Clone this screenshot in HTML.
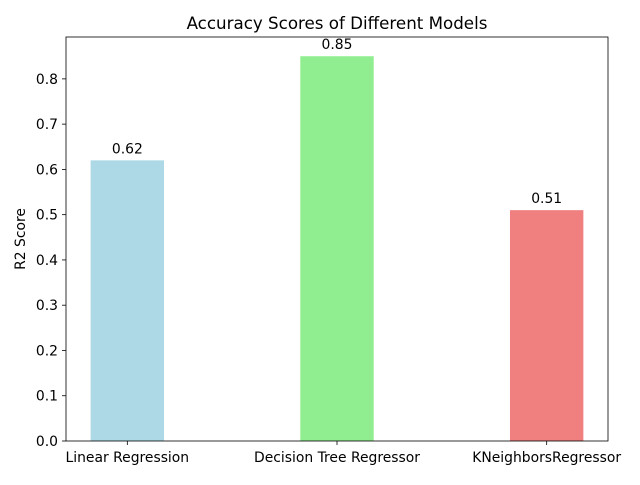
<!DOCTYPE html>
<html><head><meta charset="utf-8"><style>
body{margin:0;background:#fff;}
svg{font-family:"DejaVu Sans","Liberation Sans",sans-serif;}
</style></head><body>
<svg id="chart" width="640" height="480" viewBox="0 0 640 480">
<rect x="0" y="0" width="640" height="480" fill="#fff"/>
<text x="337" y="29" font-size="16.7" text-anchor="middle" fill="#000">Accuracy Scores of Different Models</text>
<text transform="translate(25,239) rotate(-90)" font-size="13.9" text-anchor="middle" fill="#000">R2 Score</text>
<g id="plot"></g>
</svg>
<script>
const categories = ["Linear Regression", "Decision Tree Regressor", "KNeighborsRegressor"];
const scores = [0.62, 0.85, 0.51];
const labels = ["0.62", "0.85", "0.51"];
const colors = ["#add8e6", "#90ee90", "#f08080"];
const yTicks = [0, 0.1, 0.2, 0.3, 0.4, 0.5, 0.6, 0.7, 0.8];

const L = 66, R = 608, T = 37, B = 441;
const ns = "http://www.w3.org/2000/svg";
const g = document.getElementById("plot");
const n = categories.length;
const barW = 0.35;
const xMin = -barW/2 - 0.05*((n-1)+barW), xMax = (n-1) + barW/2 + 0.05*((n-1)+barW);
const yMax = Math.max(...scores) * 1.05;
const xs = v => L + (v - xMin) / (xMax - xMin) * (R - L);
const ys = v => B - v / yMax * (B - T);
function el(tag, attrs, text) {
  const e = document.createElementNS(ns, tag);
  for (const k in attrs) e.setAttribute(k, attrs[k]);
  if (text !== undefined) e.textContent = text;
  g.appendChild(e);
  return e;
}
scores.forEach((v, i) => {
  const b = el("rect", {x: xs(i - barW/2), y: ys(v), width: xs(i + barW/2) - xs(i - barW/2), height: B - ys(v), fill: colors[i]});
  
  
  const t = el("text", {x: xs(i), y: ys(v) - 7, "font-size": 13.9, "text-anchor": "middle", fill: "#000"}, labels[i]);
  
  
  const tk = el("line", {x1: xs(i), x2: xs(i), y1: B, y2: B + 4, stroke: "#000", "stroke-width": 0.8});
  
  
  const xl = el("text", {x: xs(i), y: B + 21, "font-size": 13.9, "text-anchor": "middle", fill: "#000"}, categories[i]);
  
  
});
yTicks.forEach(v => {
  const tk = el("line", {x1: L - 4, x2: L, y1: ys(v), y2: ys(v), stroke: "#000", "stroke-width": 0.8});
  
  
  const yl = el("text", {x: L - 8, y: ys(v) + 5, "font-size": 13.9, "text-anchor": "end", fill: "#000"}, v.toFixed(1));
  
  
});
const frame = el("rect", {x: L, y: T, width: R - L, height: B - T, fill: "none", stroke: "#000", "stroke-width": 0.8});


</script>
</body></html>
